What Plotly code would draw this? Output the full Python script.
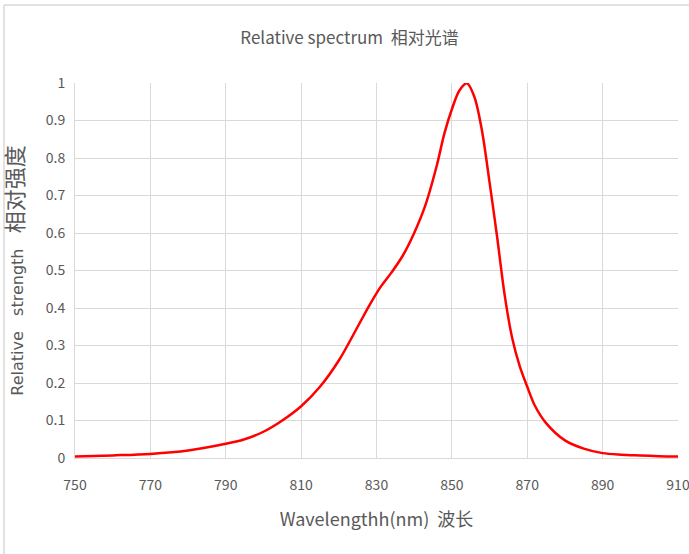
import plotly.graph_objects as go

wavelength = [750, 760, 770, 780, 790, 795, 800, 805, 810, 815, 820, 825, 828, 831, 834,
              837, 840, 843, 846, 848, 850, 852, 854, 856, 858, 860, 862, 864, 866, 868,
              870, 872, 875, 880, 885, 890, 895, 900, 905, 910]
intensity = [0.004, 0.007, 0.011, 0.020, 0.038, 0.050, 0.070, 0.100, 0.138, 0.190, 0.260,
             0.350, 0.405, 0.455, 0.495, 0.540, 0.600, 0.675, 0.780, 0.865, 0.930, 0.980,
             0.999, 0.962, 0.872, 0.735, 0.590, 0.435, 0.320, 0.245, 0.190, 0.140, 0.093,
             0.047, 0.025, 0.013, 0.009, 0.007, 0.005, 0.004]
x_ticks = [750, 770, 790, 810, 830, 850, 870, 890, 910]
y_ticks = [0, 0.1, 0.2, 0.3, 0.4, 0.5, 0.6, 0.7, 0.8, 0.9, 1]

W, H = 689, 554
ml, mr, mt, mb = 75, 11, 83, 96
pw, ph = W - ml - mr, H - mt - mb

font_narrow = "Liberation Sans Narrow, Noto Sans CJK SC, sans-serif"
font_wide = "DejaVu Sans, Noto Sans CJK SC, sans-serif"
grey = "#595959"

fig = go.Figure()
fig.add_trace(go.Scatter(
    x=wavelength, y=intensity, mode="lines",
    line=dict(color="#ff0000", width=2.5, shape="spline", smoothing=0.9),
    cliponaxis=False, hoverinfo="skip", showlegend=False,
))

fig.update_layout(
    width=W, height=H,
    margin=dict(l=ml, r=mr, t=mt, b=mb, autoexpand=False),
    paper_bgcolor="white", plot_bgcolor="white",
    font=dict(family=font_narrow, color=grey, size=14),
    title=dict(text="Relative spectrum  相对光谱", x=349.5 / W, xref="container",
               xanchor="center", y=1 - 38 / H, yanchor="middle",
               font=dict(size=17, color=grey, family=font_narrow)),
    xaxis=dict(range=[750, 910], tickvals=x_ticks, ticktext=[str(v) for v in x_ticks],
               showgrid=True, gridcolor="#d9d9d9", gridwidth=1,
               showline=True, linecolor="#d9d9d9", linewidth=1,
               zeroline=False, ticks="", ticklabelstandoff=14,
               ticklabeloverflow="allow", automargin=False,
               tickfont=dict(size=14, color=grey, family=font_narrow),
               title=dict(text="Wavelengthh(nm)  波长", standoff=20,
                          font=dict(size=18, color=grey, family=font_narrow))),
    yaxis=dict(range=[0, 1], tickvals=y_ticks, ticktext=[("%g" % v) for v in y_ticks],
               showgrid=True, gridcolor="#d9d9d9", gridwidth=1,
               showline=True, linecolor="#d9d9d9", linewidth=1,
               zeroline=False, ticks="", ticklabelstandoff=6, automargin=False,
               tickfont=dict(size=14, color=grey, family=font_narrow),
               title=dict(text="Relative   strength   <span style='font-size:22px'>相对强度</span>",
                          standoff=18,
                          font=dict(size=16, color=grey, family=font_wide))),
)

# outer chart frame (top and left visible in the reference)
fig.add_shape(type="line", xref="paper", yref="paper",
              x0=(4 - ml) / pw, x1=(W - ml) / pw, y0=(H - mb - 5) / ph, y1=(H - mb - 5) / ph,
              line=dict(color="#d9d9d9", width=1.5))
fig.add_shape(type="line", xref="paper", yref="paper",
              x0=(4 - ml) / pw, x1=(4 - ml) / pw, y0=(H - mb - 5) / ph, y1=-mb / ph,
              line=dict(color="#d9d9d9", width=1.5))

fig.write_html("out.html", config={"displayModeBar": False},
               post_script="document.body.style.margin='0px';")
